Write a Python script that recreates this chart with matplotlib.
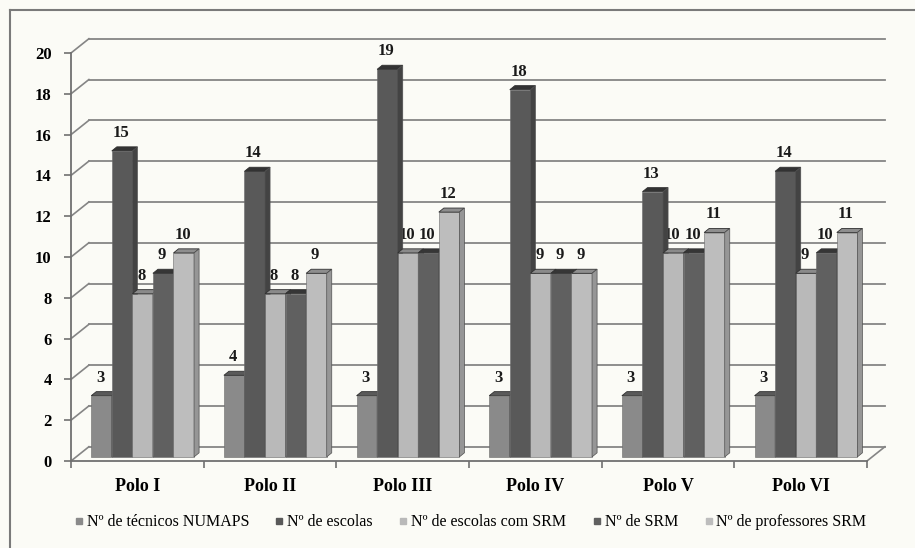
import matplotlib.pyplot as plt
from matplotlib.patches import Polygon
from matplotlib.lines import Line2D

plt.rcParams['font.family'] = ['Liberation Serif', 'DejaVu Serif']

polos = ['Polo I', 'Polo II', 'Polo III', 'Polo IV', 'Polo V', 'Polo VI']
tecnicos = [3, 4, 3, 3, 3, 3]
escolas = [15, 14, 19, 18, 13, 14]
escolas_srm = [8, 8, 10, 9, 10, 9]
srm = [9, 8, 10, 9, 10, 10]
professores = [10, 9, 12, 9, 11, 11]

series = [
    ('Nº de técnicos NUMAPS', tecnicos, '#8a8a8a', '#6c6c6c', '#5a5a5a'),
    ('Nº de escolas', escolas, '#595959', '#434343', '#333333'),
    ('Nº de escolas com SRM', escolas_srm, '#b9b9b9', '#939393', '#8a8a8a'),
    ('Nº de SRM', srm, '#606060', '#484848', '#363636'),
    ('Nº de professores SRM', professores, '#bdbdbd', '#969696', '#8e8e8e'),
]

# pseudo-3D depth of the back wall and of each bar (data units)
wall_dx, wall_dy = 0.135, 0.70
bar_sx, bar_sy = 0.040, 0.20
bar_dx, bar_dy = 0.038, 0.20
bar_w = 0.155

fig = plt.figure(figsize=(9.15, 5.48), dpi=100, facecolor='#fbfbf6')
ax = fig.add_axes([71 / 915, (548 - 461) / 548, 796 / 915, 408 / 548])
ax.set_facecolor('none')
ax.set_xlim(0, 6)
ax.set_ylim(0, 20)

grid_c = '#858585'
# back wall gridlines and the left wall diagonals
for g in range(0, 21, 2):
    ax.plot([0, wall_dx], [g, g + wall_dy], color=grid_c, lw=1.2, zorder=0.5, clip_on=False)
    ax.plot([wall_dx, 6 + wall_dx], [g + wall_dy, g + wall_dy], color=grid_c, lw=1.3,
            zorder=0.5, clip_on=False)
# floor edge on the right
ax.plot([6, 6 + wall_dx], [0, wall_dy], color=grid_c, lw=1.2, zorder=0.5, clip_on=False)

for i, (name, vals, c_front, c_side, c_top) in enumerate(series):
    xs = [k + 0.5 + (i - 2) * bar_w + bar_sx for k in range(len(polos))]
    ax.bar(xs, vals, width=bar_w, bottom=bar_sy, color=c_front, edgecolor='#6a6a6a',
           lw=0.4, zorder=3 + i * 0.01, label=name)
    for x, v in zip(xs, vals):
        x0, x1 = x - bar_w / 2, x + bar_w / 2
        top = v + bar_sy
        ax.add_patch(Polygon([(x0, top), (x1, top), (x1 + bar_dx, top + bar_dy),
                              (x0 + bar_dx, top + bar_dy)], closed=True,
                             facecolor=c_top, edgecolor='#303030', lw=0.6,
                             zorder=3 + i * 0.01, clip_on=False))
        ax.add_patch(Polygon([(x1, bar_sy), (x1 + bar_dx, bar_sy + bar_dy),
                              (x1 + bar_dx, top + bar_dy), (x1, top)], closed=True,
                             facecolor=c_side, edgecolor='#505050', lw=0.5,
                             zorder=3 + i * 0.01, clip_on=False))
        ax.text(x - 0.01, top + bar_dy + 0.3, str(v), ha='center', va='bottom',
                fontsize=12, fontweight='bold', color='#1a1a1a', zorder=2,
                clip_on=False)

for s in ['top', 'right']:
    ax.spines[s].set_visible(False)
for s in ['left', 'bottom']:
    ax.spines[s].set_color('#707070')
    ax.spines[s].set_linewidth(1.3)

ax.set_yticks(range(0, 21, 2))
ax.set_yticklabels([str(t) for t in range(0, 21, 2)], fontsize=12, fontweight='bold')
ax.tick_params(axis='y', length=5, width=1.2, color='#707070', pad=9)

ax.set_xticks(range(0, 7))
ax.set_xticklabels([])
ax.set_xticks([k + 0.5 for k in range(len(polos))], minor=True)
ax.set_xticklabels(polos, minor=True, fontsize=13, fontweight='bold')
ax.tick_params(axis='x', which='major', length=5, width=1.2, color='#707070')
ax.tick_params(axis='x', which='minor', length=0, pad=12)

handles = [Line2D([], [], marker='s', ls='none', markersize=5, color=c)
           for _, _, c, _, _ in series]
fig.legend(handles, [s[0] for s in series], loc='center', ncol=5,
           bbox_to_anchor=(0.513, 0.047), frameon=False, fontsize=11.5,
           handletextpad=0.1, columnspacing=1.5, handlelength=0.8)

# outer chart frame
fig.add_artist(Line2D([10 / 915, 1], [538 / 548, 538 / 548], color='#7a7a7a', lw=1.5))
fig.add_artist(Line2D([10 / 915, 10 / 915], [0, 538 / 548], color='#7a7a7a', lw=1.5))

fig.savefig('out.png', dpi=100, facecolor=fig.get_facecolor())
